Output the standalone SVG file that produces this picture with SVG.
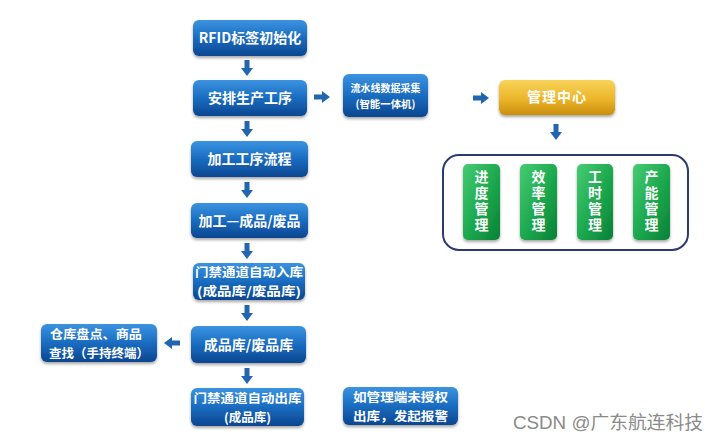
<svg xmlns="http://www.w3.org/2000/svg" xmlns:xlink="http://www.w3.org/1999/xlink" width="720" height="440" viewBox="0 0 720 440">
<defs>
  <linearGradient id="gb" x1="0" y1="0" x2="0" y2="1">
    <stop offset="0" stop-color="#3b93e0"/>
    <stop offset="0.5" stop-color="#1a6cc0"/>
    <stop offset="1" stop-color="#0b4690"/>
  </linearGradient>
  <linearGradient id="gg" x1="0" y1="0" x2="1" y2="1">
    <stop offset="0" stop-color="#46cc72"/>
    <stop offset="0.6" stop-color="#17a34a"/>
    <stop offset="1" stop-color="#0b8038"/>
  </linearGradient>
  <linearGradient id="gy" x1="0" y1="0" x2="0" y2="1">
    <stop offset="0" stop-color="#f8d35a"/>
    <stop offset="0.55" stop-color="#ecb52a"/>
    <stop offset="1" stop-color="#c98e0c"/>
  </linearGradient>
  <filter id="sh" x="-10%" y="-20%" width="120%" height="150%">
    <feGaussianBlur in="SourceAlpha" stdDeviation="1.6"/>
    <feOffset dx="0" dy="2" result="b"/>
    <feComponentTransfer><feFuncA type="linear" slope="0.35"/></feComponentTransfer>
    <feMerge><feMergeNode/><feMergeNode in="SourceGraphic"/></feMerge>
  </filter>
  <path id="ad" d="M-2.5,0 H2.5 V8 H6 L0,16 L-6,8 H-2.5 Z" fill="#2266b0"/>
</defs>
<style>
  .b{fill:url(#gb);filter:url(#sh)}
  .g{fill:url(#gg);filter:url(#sh)}
  .y{fill:url(#gy);filter:url(#sh)}
  .t{font-family:"Noto Sans CJK SC","Liberation Sans",sans-serif;font-weight:bold;fill:#ffffff;text-anchor:middle;font-size:14px}
  .s{font-size:12.5px}
  .xs{font-size:10.5px}
  .v{font-family:"Noto Sans CJK SC",sans-serif;font-weight:bold;fill:#ffffff;font-size:14px;letter-spacing:2px}
  .wm{font-family:"Liberation Sans","Noto Sans CJK SC",sans-serif;fill:#8a8a8a;font-size:18px}
</style>
<rect width="720" height="440" fill="#ffffff"/>

<g id="n1"><rect class="b" x="193" y="20" width="114" height="36" rx="6"/><text class="t" x="250" y="43">RFID标签初始化</text></g>
<g id="n2"><rect class="b" x="193" y="80" width="114" height="36" rx="6"/><text class="t" x="250" y="103">安排生产工序</text></g>
<g id="n3"><rect class="b" x="191" y="141" width="117" height="36" rx="6"/><text class="t" x="249.5" y="164">加工工序流程</text></g>
<g id="n4"><rect class="b" x="191" y="203" width="117" height="35" rx="6"/><text class="t" x="249.5" y="225.5">加工—成品/废品</text></g>
<g id="n5"><rect class="b" x="193" y="263" width="112" height="37" rx="6"/><text class="t s" x="249" y="277" textLength="108" lengthAdjust="spacingAndGlyphs">门禁通道自动入库</text><text class="t s" x="249" y="296" textLength="104" lengthAdjust="spacingAndGlyphs">(成品库/废品库)</text></g>
<g id="n6"><rect class="b" x="191" y="326" width="115" height="37" rx="6"/><text class="t" x="248.5" y="349.5">成品库/废品库</text></g>
<g id="n7"><rect class="b" x="191" y="388" width="113" height="38" rx="6"/><text class="t s" x="247.5" y="402.5" textLength="108" lengthAdjust="spacingAndGlyphs">门禁通道自动出库</text><text class="t s" x="247.5" y="421.5">(成品库)</text></g>
<g id="n8"><rect class="b" x="41" y="324" width="116" height="38" rx="6"/><text class="t s" x="96" y="338.5" textLength="92" lengthAdjust="spacingAndGlyphs">仓库盘点、商品</text><text class="t s" x="99" y="357.5">查找（手持终端）</text></g>
<g id="n9"><rect class="b" x="343" y="74" width="85" height="43" rx="6"/><text class="t xs" x="385.5" y="92" textLength="70" lengthAdjust="spacingAndGlyphs">流水线数据采集</text><text class="t xs" x="385.5" y="108" textLength="60" lengthAdjust="spacingAndGlyphs">(智能一体机)</text></g>
<g id="n10"><rect class="y" x="499" y="80" width="116" height="35" rx="6"/><text class="t" x="557" y="102" letter-spacing="1">管理中心</text></g>
<g id="n11"><rect x="443" y="155" width="245" height="95" rx="16" fill="#ffffff" stroke="#2c3a72" stroke-width="2"/></g>
<g id="n12"><rect class="g" x="463" y="164" width="37" height="76" rx="5"/><text class="v" writing-mode="tb" x="481.5" y="170">进度管理</text></g>
<g id="n13"><rect class="g" x="520" y="164" width="37" height="76" rx="5"/><text class="v" writing-mode="tb" x="538.5" y="170">效率管理</text></g>
<g id="n14"><rect class="g" x="577" y="164" width="36" height="76" rx="5"/><text class="v" writing-mode="tb" x="595" y="170">工时管理</text></g>
<g id="n15"><rect class="g" x="633" y="164" width="37" height="76" rx="5"/><text class="v" writing-mode="tb" x="651.5" y="170">产能管理</text></g>
<g id="n16"><rect class="b" x="343" y="387" width="115" height="38" rx="6"/><text class="t s" x="400.5" y="401.5" textLength="95" lengthAdjust="spacingAndGlyphs">如管理端未授权</text><text class="t s" x="400.5" y="420.5" textLength="95" lengthAdjust="spacingAndGlyphs">出库，发起报警</text></g>

<g id="connectors">
  <use xlink:href="#ad" transform="translate(247,60)"/>
  <use xlink:href="#ad" transform="translate(247,121)"/>
  <use xlink:href="#ad" transform="translate(247,182)"/>
  <use xlink:href="#ad" transform="translate(247,243)"/>
  <use xlink:href="#ad" transform="translate(247,305)"/>
  <use xlink:href="#ad" transform="translate(247,368)"/>
  <use xlink:href="#ad" transform="translate(314,97) rotate(-90)"/>
  <use xlink:href="#ad" transform="translate(473,98) rotate(-90)"/>
  <use xlink:href="#ad" transform="translate(556,124)"/>
  <use xlink:href="#ad" transform="translate(180,343) rotate(90)"/>
</g>

<text class="wm" x="513" y="429" textLength="190" lengthAdjust="spacingAndGlyphs">CSDN @广东航连科技</text>
</svg>
